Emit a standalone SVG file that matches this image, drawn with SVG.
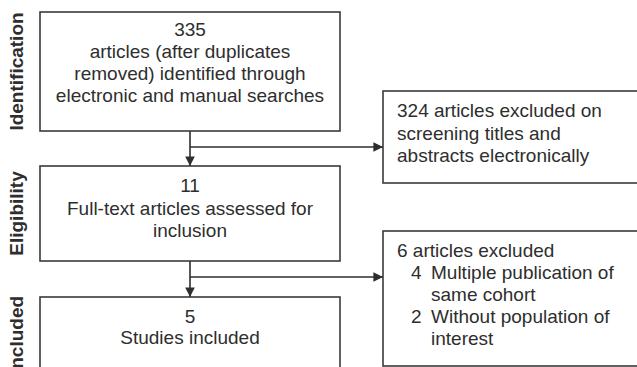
<svg xmlns="http://www.w3.org/2000/svg" width="637" height="367" viewBox="0 0 637 367">
<defs>
<style>
.box{fill:#fff;stroke:#3a3a3a;stroke-width:1.6}
.t{font-family:"Liberation Sans",Arial,sans-serif;font-size:19px;fill:#2e2e2e}
.c{text-anchor:middle}
.lab{font-family:"Liberation Sans",Arial,sans-serif;font-size:19px;font-weight:bold;fill:#2e2e2e;text-anchor:middle}
.ln{fill:none;stroke:#2e2e2e;stroke-width:1.6}
</style>
<marker id="ah" viewBox="0 0 10 10" refX="10" refY="5" markerWidth="6" markerHeight="6" markerUnits="strokeWidth" orient="auto">
<path d="M0,0 L10,5 L0,10 z" fill="#2e2e2e"/>
</marker>
</defs>
<rect width="637" height="367" fill="#fff"/>
<g id="labels">
<text class="lab" transform="translate(23,71.5) rotate(-90)">Identification</text>
<text class="lab" transform="translate(23,213.5) rotate(-90)">Eligibility</text>
<text class="lab" transform="translate(23,335) rotate(-90)">Included</text>
</g>
<g id="connectors">
<line class="ln" x1="190" y1="131" x2="190" y2="166" marker-end="url(#ah)"/>
<line class="ln" x1="190" y1="147" x2="383" y2="147" marker-end="url(#ah)"/>
<line class="ln" x1="190" y1="261" x2="190" y2="297" marker-end="url(#ah)"/>
<line class="ln" x1="190" y1="277" x2="383" y2="277" marker-end="url(#ah)"/>
</g>
<g id="identified">
<rect class="box" x="40" y="12" width="300" height="119"/>
<text class="t c" x="190" y="36">335</text>
<text class="t c" x="190" y="58">articles (after duplicates</text>
<text class="t c" x="190" y="80">removed) identified through</text>
<text class="t c" x="190" y="102">electronic and manual searches</text>
</g>
<g id="excluded-screening">
<rect class="box" x="383" y="91" width="262" height="92"/>
<text class="t" x="397" y="117">324 articles excluded on</text>
<text class="t" x="397" y="140">screening titles and</text>
<text class="t" x="397" y="162">abstracts electronically</text>
</g>
<g id="fulltext">
<rect class="box" x="40" y="166" width="300" height="95"/>
<text class="t c" x="190" y="192">11</text>
<text class="t c" x="190" y="215">Full-text articles assessed for</text>
<text class="t c" x="190" y="237">inclusion</text>
</g>
<g id="excluded-fulltext">
<rect class="box" x="383" y="231" width="262" height="135"/>
<text class="t" x="397" y="257">6 articles excluded</text>
<text class="t" x="411" y="279">4</text>
<text class="t" x="431" y="279">Multiple publication of</text>
<text class="t" x="431" y="301">same cohort</text>
<text class="t" x="411" y="323">2</text>
<text class="t" x="431" y="323">Without population of</text>
<text class="t" x="431" y="345">interest</text>
</g>
<g id="included">
<rect class="box" x="40" y="297" width="300" height="80"/>
<text class="t c" x="190" y="323">5</text>
<text class="t c" x="190" y="344">Studies included</text>
</g>
</svg>
